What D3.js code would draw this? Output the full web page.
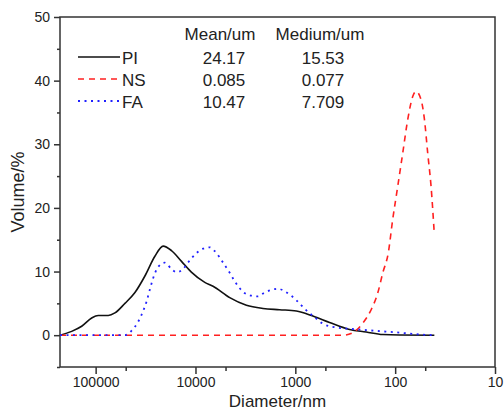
<!DOCTYPE html>
<html>
<head>
<meta charset="utf-8">
<script src="https://cdn.jsdelivr.net/npm/d3@7"></script>
<style>
  body { margin: 0; background: #fff; }
  text { font-family: "Liberation Sans", Arial, sans-serif; fill: #222; }
</style>
</head>
<body>
<div id="plot"></div>
<script>
// particle size distributions, diameter in nm, volume in %
var pi_diam = [227500, 173800, 138000, 109600, 94200, 74800, 64100, 50900, 40400, 32100, 25500, 21100, 17400, 13800, 11000, 8070, 6670, 4540, 3090, 2110, 1440, 977, 667, 454, 286, 195, 133, 90.6, 40.5];
var pi_vol  = [0, 0.6, 1.4, 2.7, 3.1, 3.1, 3.5, 5.0, 6.7, 9.3, 12.4, 14.0, 13.3, 11.6, 9.9, 8.3, 7.7, 5.9, 4.7, 4.2, 4.0, 3.8, 3.0, 2.0, 0.9, 0.5, 0.1, 0.02, 0];

var ns_diam = [227500, 334, 265, 211, 174, 149, 133, 117, 106, 94.2, 84, 74.8, 66.7, 61.7, 55, 50.9, 47.2, 43.7, 40.5];
var ns_vol  = [0, 0, 0.4, 1.9, 4.0, 6.7, 9.8, 13.0, 18.1, 23.4, 28.6, 33.9, 37.5, 38.3, 37.0, 33.9, 28.6, 23.4, 15.8];

var fa_diam = [227500, 50900, 43700, 38900, 34700, 30900, 28600, 26500, 23700, 20300, 17400, 15500, 13300, 11900, 9770, 8390, 7190, 6410, 5290, 4540, 4050, 3340, 2750, 2370, 2030, 1740, 1490, 1280, 1100, 977, 871, 776, 617, 530, 389, 286, 195, 133, 90.6, 61.7, 40.5];
var fa_vol  = [0, 0, 0.7, 1.7, 3.2, 5.3, 7.2, 9.0, 10.7, 11.4, 10.4, 9.9, 10.4, 11.4, 12.9, 13.6, 13.8, 13.2, 11.4, 9.8, 8.5, 6.8, 6.2, 6.1, 6.7, 7.1, 7.3, 6.9, 6.2, 5.5, 4.7, 3.9, 2.6, 1.8, 1.2, 1.0, 0.8, 0.6, 0.4, 0.15, 0];

var series_names = ["PI", "NS", "FA"];
var mean_um   = ["24.17", "0.085", "10.47"];
var medium_um = ["15.53", "0.077", "7.709"];

var x_major = [100000, 10000, 1000, 100, 10];
var x_minor = [50000, 5000, 500, 50];
var y_major = [0, 10, 20, 30, 40, 50];
var y_minor = [-5, 5, 15, 25, 35, 45];

const total_width = 504
const total_height = 410
const margin = {left: 60, top: 17, right: 9, bottom: 43}

var width = total_width - margin.left - margin.right;
var height = total_height - margin.top - margin.bottom;

var svg = d3.select("#plot").append("svg").attr("width", total_width).attr("height", total_height)
  .append("g").attr("transform", "translate(" + margin.left + "," + margin.top + ")");

var x = d3.scaleLog().domain([227500, 10]).range([0, width]);
var y = d3.scaleLinear().domain([-5, 50]).range([height, 0]);

var axis_color = "#333";

// frame
svg.append("rect").attr("width", width).attr("height", height)
  .style("fill", "none").style("stroke", axis_color).style("stroke-width", 1.5);

// bottom axis
var xAxis = d3.axisBottom(x).tickValues(x_major).tickFormat(d3.format("d")).tickSize(7).tickPadding(3);
svg.append("g").attr("transform", "translate(0," + height + ")").call(xAxis);
svg.append("g").attr("transform", "translate(0," + height + ")")
  .call(d3.axisBottom(x).tickValues(x_minor).tickFormat("").tickSize(4));

// left axis
var yAxis = d3.axisLeft(y).tickValues(y_major).tickSize(6).tickPadding(4);
svg.append("g").call(yAxis);
svg.append("g").call(d3.axisLeft(y).tickValues(y_minor).tickFormat("").tickSize(3));

svg.selectAll(".domain").remove();
svg.selectAll(".tick line").style("stroke", axis_color).style("stroke-width", 1.5);
svg.selectAll(".tick text").style("font-size", "14px").style("font-family", "'Liberation Sans', Arial, sans-serif").style("fill", "#222");

// axis titles
svg.append("text").attr("x", width / 2).attr("y", height + 40).attr("text-anchor", "middle")
  .style("font-size", "17px").text("Diameter/nm");
svg.append("text").attr("transform", "translate(-36," + (height / 2) + ") rotate(-90)")
  .attr("text-anchor", "middle").style("font-size", "18px").text("Volume/%");

// curves
var line = d3.line()
  .x(function(d) {return x(d[0])})
  .y(function(d) {return y(d[1])})
  .curve(d3.curveMonotoneX);

var styles = [
  {color: "#111", dash: null, w: 1.6},
  {color: "#ff2020", dash: "6,5", w: 1.6},
  {color: "#2020ff", dash: "2,4.5", w: 1.8}
];

var series = [d3.zip(pi_diam, pi_vol), d3.zip(ns_diam, ns_vol), d3.zip(fa_diam, fa_vol)];

series.forEach(function(s, i) {
  svg.append("path").datum(s).attr("d", line)
    .style("fill", "none").style("stroke", styles[i].color)
    .style("stroke-width", styles[i].w)
    .style("stroke-dasharray", styles[i].dash);
});

// legend with table
var leg = svg.append("g");
var row_y = [40, 62, 84];

leg.append("text").attr("x", 160).attr("y", 23).attr("text-anchor", "middle").style("font-size", "17px").text("Mean/um");
leg.append("text").attr("x", 260).attr("y", 23).attr("text-anchor", "middle").style("font-size", "17px").text("Medium/um");

series_names.forEach(function(name, i) {
  var yy = row_y[i];
  leg.append("line").attr("x1", 18).attr("x2", 60).attr("y1", yy).attr("y2", yy)
    .style("stroke", styles[i].color).style("stroke-width", styles[i].w)
    .style("stroke-dasharray", styles[i].dash);
  leg.append("text").attr("x", 62).attr("y", yy + 6.5).style("font-size", "17px").text(name);
  leg.append("text").attr("x", 164).attr("y", yy + 6.5).attr("text-anchor", "middle").style("font-size", "17px").text(mean_um[i]);
  leg.append("text").attr("x", 263).attr("y", yy + 6.5).attr("text-anchor", "middle").style("font-size", "17px").text(medium_um[i]);
});
</script>
</body>
</html>
